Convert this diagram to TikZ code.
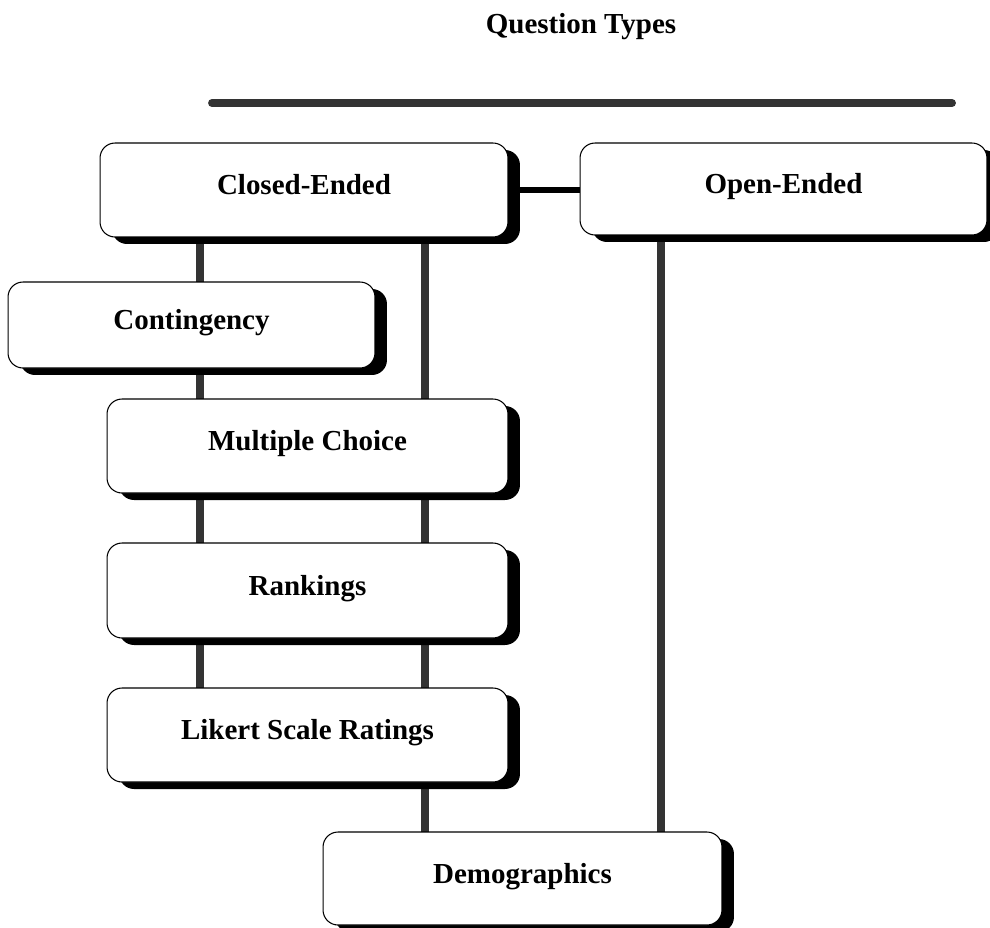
\documentclass[tikz,border=0pt]{standalone}
\usepackage{fontspec}
\setmainfont{Liberation Serif}
\usetikzlibrary{shadows}
\pgfdeclarelayer{background}
\pgfsetlayers{background,main}
\tikzset{%
	box/.style      = {draw, rounded corners=0.3cm, fill=white, line width=0.6pt,
		inner sep=0pt, outer sep=0pt, text height=11pt, text depth=5.6pt,
		font=\fontsize{16.5}{20}\selectfont\bfseries,
		drop shadow={shadow xshift=2.4mm, shadow yshift=-1.4mm, fill=black, opacity=1}},
	title/.style    = {font=\fontsize{16.5}{20}\selectfont\bfseries}, % Heading
	rail/.style     = {line width=4.2pt, draw=black!80}, % Vertical link
	link/.style     = {line width=3.6pt, draw=black}, % Horizontal link
	rule/.style     = {line width=4.5pt, draw=black!80, line cap=round} % Top bar
}

\begin{document}
\begin{tikzpicture}[x=0.02cm,y=-0.02cm]
                \useasboundingbox (0,0) rectangle (990,927);
                \node[title] (types) at (581,27) {Question Types};
                \coordinate (ruleL) at (212,103);
                \coordinate (ruleR) at (952,103);
                \draw[rule] (ruleL) -- (ruleR);

                \node[box, minimum width=8.16cm, minimum height=1.88cm] (closed) at (304,190) {Closed-Ended};
                \node[box, minimum width=8.14cm, minimum height=1.84cm] (open) at (783.5,189) {Open-Ended};
                \node[box, minimum width=7.34cm, minimum height=1.72cm] (contingency) at (191.5,325) {Contingency};
                \node[box, minimum width=8.02cm, minimum height=1.88cm] (multiple) at (307.5,446) {Multiple Choice};
                \node[box, minimum width=8.02cm, minimum height=1.9cm] (rankings) at (307.5,590.5) {Rankings};
                \node[box, minimum width=8.02cm, minimum height=1.88cm] (likert) at (307.5,735) {Likert Scale Ratings};
                \node[box, minimum width=7.98cm, minimum height=1.86cm] (demo) at (522.5,878.5) {Demographics};

                \coordinate (colA) at (200,0);
                \coordinate (colB) at (425,0);
                \coordinate (colC) at (661,0);

                \begin{pgfonlayer}{background}
                \draw[rail] (closed.south -| colA) -- (likert.north -| colA);
                \draw[rail] (closed.south -| colB) -- (demo.north -| colB);
                \draw[rail] (open.south -| colC)   -- (demo.north -| colC);
                \draw[link] (closed.east) -- (closed.east -| open.west);
                \end{pgfonlayer}
            \end{tikzpicture}
\end{document}
